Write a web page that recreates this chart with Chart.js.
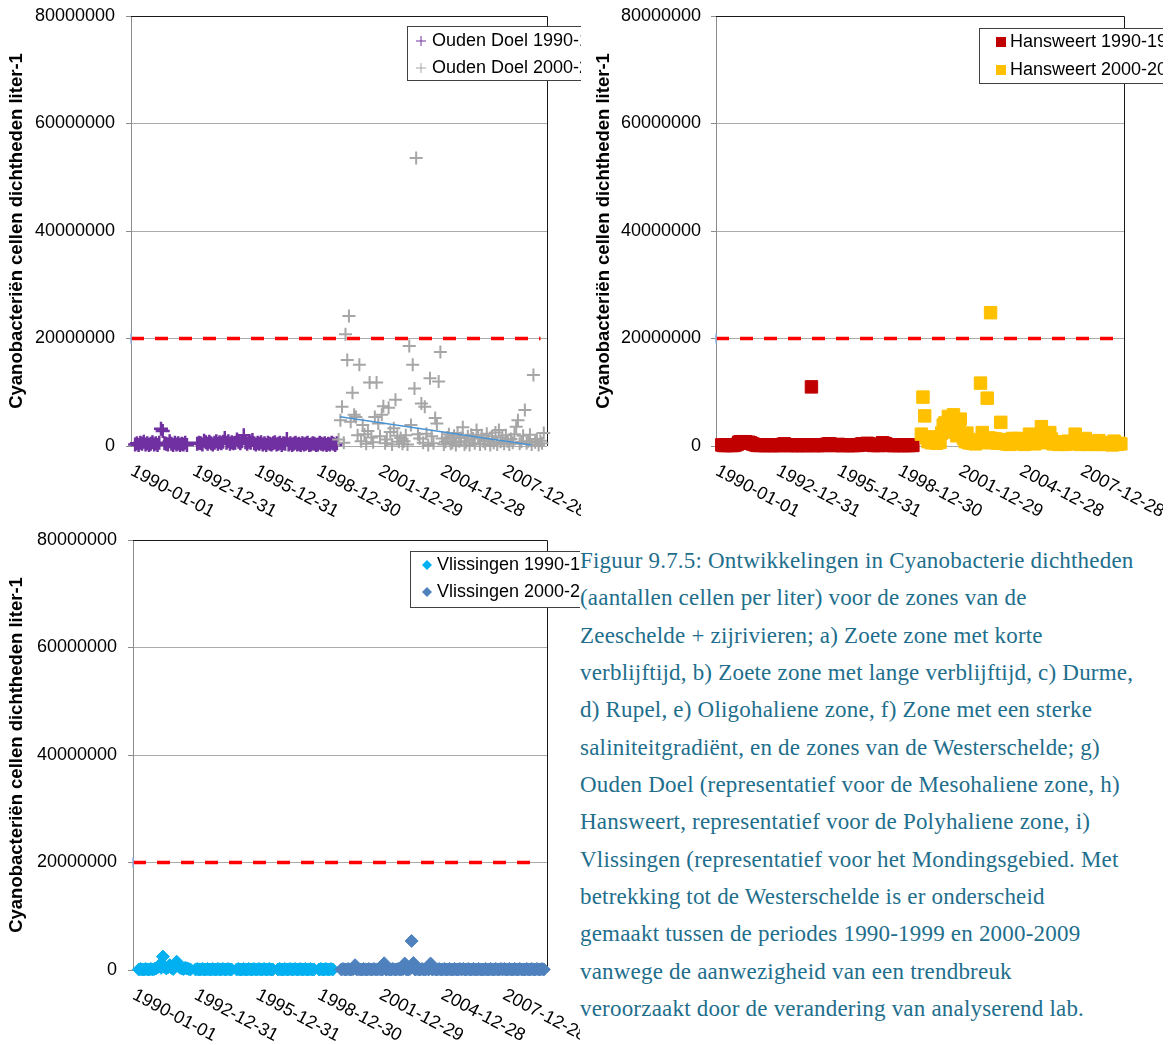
<!DOCTYPE html>
<html lang="nl">
<head>
<meta charset="utf-8" />
<title>Cyanobacteriën Westerschelde</title>
<style>
  * { margin: 0; padding: 0; }
  body { width: 1173px; height: 1045px; background: #fff; position: relative; overflow: hidden; }
  canvas { position: absolute; }
  #c1 { left: 0; top: 0; }
  #c2 { left: 590px; top: 0; }
  #c3 { left: 0; top: 524px; }
  .caption {
    position: absolute;
    left: 580px;
    top: 542px;
    font-family: 'Liberation Serif', 'Times New Roman', serif;
    font-size: 23px;
    letter-spacing: 0.2px;
    line-height: 37.33px;
    color: #1e6e8c;
    white-space: pre;
    background: #fff;
  }
</style>
</head>
<body>
<canvas id="c1" width="581" height="520"></canvas>
<canvas id="c2" width="573" height="520"></canvas>
<canvas id="c3" width="580" height="521"></canvas>
<div class="caption">Figuur 9.7.5: Ontwikkelingen in Cyanobacterie dichtheden
(aantallen cellen per liter) voor de zones van de
Zeeschelde + zijrivieren; a) Zoete zone met korte
verblijftijd, b) Zoete zone met lange verblijftijd, c) Durme,
d) Rupel, e) Oligohaliene zone, f) Zone met een sterke
saliniteitgradiënt, en de zones van de Westerschelde; g)
Ouden Doel (representatief voor de Mesohaliene zone, h)
Hansweert, representatief voor de Polyhaliene zone, i)
Vlissingen (representatief voor het Mondingsgebied. Met
betrekking tot de Westerschelde is er onderscheid
gemaakt tussen de periodes 1990-1999 en 2000-2009
vanwege de aanwezigheid van een trendbreuk
veroorzaakt door de verandering van analyserend lab.</div>

<script src="https://cdn.jsdelivr.net/npm/chart.js"></script>
<script>
  // date axis labels (Excel date axis, major unit 1095 days)
  const tickDates = ['1990-01-01', '1992-12-31', '1995-12-31', '1998-12-30', '2001-12-29', '2004-12-28', '2007-12-28'];
  const thresholdValue = 20000000;
  const yTitle = 'Cyanobacteriën cellen dichtheden liter-1';

  // monthly samples in millions of cells per liter, one row per year, null = no sample
  const oudenDoel1990 = [
    null, null, 0.3, 0.5, 0.2, 0.6, 0.4, 0.8, 0.3, 0.5, 0.2, 0.4,
    0.7, 0.3, 0.5, 0.2, 0.6, 3.2, 2.8, 0.5, 0.4, 0.3, 0.9, 0.4,
    0.2, 0.6, 0.3, 0.5, 0.2, 0.4, 0.3, 0.6, 0.2, null, null, null,
    null, null, 0.4, 0.6, 0.5, 0.3, 1.0, 0.7, 0.4, 0.8, 0.5, 0.3,
    0.6, 0.9, 0.4, 0.7, 0.5, 0.8, 1.5, 0.6, 0.9, 0.4, 0.7, 0.5,
    0.6, 1.2, 0.8, 0.5, 0.9, 2.0, 0.7, 0.4, 0.8, 0.6, 1.1, 0.5,
    0.3, 0.6, 0.4, 0.7, 0.3, 0.5, 0.2, 0.6, 0.4, 0.3, 0.5, 0.7,
    0.3, 0.4, 0.6, 0.2, 0.5, 0.4, 1.3, 0.3, 0.5, 0.2, 0.4, 0.6,
    0.3, 0.4, 0.2, 0.5, 0.3, 0.4, 0.6, 0.2, 0.3, 0.5, 0.4, 0.2,
    0.3, 0.6, 0.4, 0.3, 0.5, 0.2, 0.4, 0.3, 0.6, 0.4, 0.2, 0.5
  ];
  const oudenDoel2000 = [
    1.2, 4.8, 7.3, 0.6, 20.8, 16.0, 24.2, 4.5, 9.9, 5.8, 5.4, 2.0,
    15.1, 0.9, 3.9, 2.2, 0.4, 2.8, 11.8, 1.6, 0.7, 5.4, 11.8, 4.2,
    1.8, 5.8, 7.4, 0.5, 1.2, 7.1, 2.6, 0.3, 3.3, 8.6, 1.9, 0.8,
    1.5, 0.4, 0.9, 2.0, 0.3, 18.6, 3.9, 15.1, 10.7, 53.6, 2.2, 1.4,
    7.9, 0.6, 7.3, 2.3, 0.2, 12.6, 1.8, 0.5, 5.2, 4.2, 12.0, 17.5,
    1.4, 0.3, 0.8, 1.6, 2.2, 0.4, 0.6, 1.9, 0.2, 2.4, 0.9, 1.5,
    3.5, 0.3, 0.7, 1.8, 0.2, 2.1, 1.4, 0.5, 3.0, 1.6, 0.3, 2.0,
    0.9, 0.4, 2.3, 1.2, 0.2, 1.8, 0.6, 2.5, 0.3, 3.0, 0.8, 1.6,
    0.4, 2.0, 0.9, 0.3, 1.3, 0.6, 2.2, 3.6, 4.8, 0.4, 0.8, 1.9,
    6.7, 0.5, 0.9, 2.1, 0.3, 13.2, 0.7, 1.3, 0.2, 1.0, 0.5, 2.4
  ];
  const oudenDoelTrendDates = ['2000-02-06', '2009-05-10'];
  const oudenDoelTrend = [5.45, 0.2];

  const hansweert1990 = [
    null, null, null, 0.2, 0.1, 0.1, 0.2, 0.1, 0.2, 0.1, 0.1, 0.2,
    0.3, 0.7, 0.8, 0.6, 0.7, 0.8, 0.5, 0.7, 0.6, 0.4, 0.3, 0.2,
    0.1, 0.2, 0.1, 0.2, 0.1, 0.1, 0.2, 0.1, 0.1, 0.2, 0.1, 0.1,
    0.2, 0.1, 0.1, 0.3, 0.4, 0.2, 0.1, 0.1, 0.2, 0.1, 0.1, 0.2,
    0.1, 0.2, 0.1, 0.1, 0.2, 0.1, 0.1, 0.2, 11.0, 0.1, 0.1, 0.2,
    0.1, 0.2, 0.1, 0.1, 0.2, 0.3, 0.4, 0.4, 0.2, 0.1, 0.1, 0.2,
    0.3, 0.2, 0.1, 0.1, 0.2, 0.1, 0.1, 0.2, 0.1, 0.1, 0.2, 0.1,
    0.2, 0.3, 0.4, 0.2, 0.3, 0.5, 0.4, 0.3, 0.2, 0.1, 0.2, 0.1,
    0.1, 0.2, 0.6, 0.5, 0.4, 0.2, 0.1, 0.2, 0.1, 0.1, 0.2, 0.1,
    0.1, 0.2, 0.1, 0.1, 0.2, 0.1, 0.1, 0.2, 0.1, null, null, null
  ];
  const hansweert2000 = [
    null, 2.2, 9.1, 5.6, 1.5, 0.8, 1.2, 0.6, 1.7, 0.9, 0.5, 1.1,
    0.7, 2.4, 3.9, 4.3, 3.0, 5.5, 2.6, 3.4, 5.8, 2.8, 1.9, 3.2,
    5.0, 2.1, 1.4, 0.8, 2.4, 0.6, 1.0, 0.5, 0.9, 0.4, 0.7, 1.2,
    11.7, 2.5, 1.3, 0.6, 8.9, 1.5, 24.8, 1.4, 0.8, 1.3, 0.5, 0.9,
    4.4, 1.2, 0.6, 0.4, 1.0, 0.3, 0.7, 1.4, 0.5, 0.8, 1.4, 0.6,
    0.4, 0.9, 0.3, 0.6, 1.2, 2.2, 0.8, 0.5, 0.4, 1.6, 0.7, 1.5,
    3.6, 2.2, 1.0, 0.6, 1.1, 2.5, 1.3, 0.4, 0.8, 0.5, 0.3, 0.7,
    0.4, 0.6, 0.3, 0.5, 0.9, 0.4, 0.6, 0.8, 2.2, 1.0, 0.5, 0.3,
    0.6, 0.4, 1.4, 0.8, 0.3, 0.5, 0.7, 0.4, 0.3, 0.6, 1.0, 0.5,
    0.3, 0.4, 0.6, 0.3, 0.5, 0.4, 0.2, 0.9, 0.4, 0.3, 0.5, 0.4
  ];

  const vlissingen1990 = [
    null, null, null, 0.1, 0.2, 0.1, 0.1, 0.2, 0.1, 0.1, 0.2, 0.1,
    0.2, 0.3, 0.5, 0.9, 0.4, 2.5, 0.6, 0.3, 0.5, 0.9, 0.4, 0.2,
    0.6, 1.55, 0.8, 0.4, 0.3, 0.2, 0.4, 0.3, 0.2, 0.1, null, null,
    0.1, 0.2, 0.1, 0.1, 0.2, 0.1, 0.1, 0.2, 0.1, 0.1, 0.2, 0.1,
    0.1, 0.2, 0.1, 0.1, 0.2, 0.1, 0.1, 0.2, 0.1, 0.1, null, null,
    0.1, 0.2, 0.1, 0.1, 0.2, 0.1, 0.1, 0.2, 0.1, 0.1, 0.2, 0.1,
    0.1, 0.2, 0.1, 0.1, 0.2, 0.1, 0.1, 0.2, 0.1, 0.1, null, null,
    0.1, 0.2, 0.1, 0.1, 0.2, 0.1, 0.1, 0.2, 0.1, 0.1, 0.2, 0.1,
    0.1, 0.2, 0.1, 0.1, 0.2, 0.1, 0.1, 0.2, 0.1, 0.1, null, null,
    0.1, 0.2, 0.1, 0.1, 0.2, 0.1, 0.1, 0.2, 0.1, null, null, null
  ];
  const vlissingen2000 = [
    null, 0.1, 0.2, 0.1, 0.1, 0.2, 0.1, 0.1, 0.2, 0.9, 0.1, 0.2,
    0.1, 0.1, 0.2, 0.1, 0.1, 0.2, 0.1, 0.1, 0.2, 0.1, 0.1, 0.2,
    0.1, 0.1, 1.25, 0.1, 0.2, 0.1, 0.1, 0.2, 0.1, 0.1, 0.2, 0.1,
    0.1, 0.2, 1.2, 0.1, 0.1, 0.2, 5.4, 1.3, 0.1, 0.2, 0.1, 0.1,
    0.2, 0.1, 0.1, 0.2, 0.1, 1.2, 0.1, 0.2, 0.1, 0.1, 0.2, 0.1,
    0.1, 0.2, 0.1, 0.1, 0.2, 0.1, 0.1, 0.2, 0.1, 0.1, 0.2, 0.1,
    0.2, 0.1, 0.1, 0.2, 0.1, 0.1, 0.2, 0.1, 0.1, 0.2, 0.1, 0.1,
    0.1, 0.2, 0.1, 0.1, 0.2, 0.1, 0.1, 0.2, 0.1, 0.1, 0.2, 0.1,
    0.2, 0.1, 0.1, 0.2, 0.1, 0.1, 0.2, 0.1, 0.1, 0.2, 0.1, 0.1,
    0.1, 0.2, 0.1, 0.1, 0.2, 0.1, 0.1, 0.2, 0.1, 0.1, 0.2, 0.1
  ];

  const FONT = "'Liberation Sans', Arial, sans-serif";
  const DAY = 86400000;
  const T0 = Date.UTC(1990, 0, 1);
  const toDay = (iso) => (Date.parse(iso) - T0) / DAY;

  // one point per month, placed mid-month
  function monthly(startYear, values) {
    const pts = [];
    values.forEach((v, i) => {
      if (v === null) return;
      pts.push({ x: (Date.UTC(startYear, i, 15) - T0) / DAY, y: v * 1e6 });
    });
    return pts;
  }

  function series(label, values, startYear, color, style, radius, width) {
    return {
      label,
      data: monthly(startYear, values),
      showLine: false,
      pointStyle: style,
      pointRadius: radius,
      pointBorderWidth: width,
      pointBorderColor: color,
      pointBackgroundColor: color,
      borderColor: color,
      backgroundColor: color,
      clip: false,
    };
  }

  function thresholdLine(endDate) {
    return {
      label: 'norm',
      data: [
        { x: toDay('1990-01-01'), y: thresholdValue },
        { x: toDay(endDate), y: thresholdValue },
      ],
      showLine: true,
      borderColor: '#ff0000',
      borderWidth: 3.5,
      borderDash: [13, 11],
      pointStyle: 'line',
      pointRotation: 90,
      pointRadius: [5, 0],
      pointBorderColor: '#8db3e2',
      pointBorderWidth: 1.5,
      clip: false,
    };
  }

  // plot area border (top + right), under the markers
  const frame = {
    id: 'frame',
    beforeDatasetsDraw(chart) {
      const { ctx, chartArea: { left, top, right, bottom } } = chart;
      const r = Math.round(right) + 0.5;
      ctx.save();
      ctx.strokeStyle = '#1a1a1a';
      ctx.lineWidth = 1;
      ctx.beginPath();
      ctx.moveTo(left, top + 0.5);
      ctx.lineTo(r, top + 0.5);
      ctx.lineTo(r, bottom);
      ctx.stroke();
      ctx.restore();
    },
  };

  // slanted date labels running down to the right
  const dateLabels = {
    id: 'dateLabels',
    afterDraw(chart) {
      const { ctx, chartArea: { bottom }, scales: { x } } = chart;
      ctx.save();
      ctx.font = '18px ' + FONT;
      ctx.fillStyle = '#000';
      ctx.textAlign = 'left';
      ctx.textBaseline = 'top';
      x.ticks.forEach((t, i) => {
        ctx.save();
        ctx.translate(x.getPixelForValue(t.value) + 5, bottom + 16);
        ctx.rotate((28 * Math.PI) / 180);
        ctx.fillText(tickDates[i], 0, 0);
        ctx.restore();
      });
      ctx.restore();
    },
  };

  function drawMarker(ctx, style, x, y, r) {
    ctx.beginPath();
    if (style === 'cross') {
      ctx.moveTo(x - r, y);
      ctx.lineTo(x + r, y);
      ctx.moveTo(x, y - r);
      ctx.lineTo(x, y + r);
      ctx.stroke();
    } else if (style === 'rect') {
      ctx.fillRect(x - r, y - r, 2 * r, 2 * r);
    } else {
      ctx.moveTo(x - r, y);
      ctx.lineTo(x, y - r);
      ctx.lineTo(x + r, y);
      ctx.lineTo(x, y + r);
      ctx.closePath();
      ctx.fill();
    }
  }

  // boxed legend, runs off the canvas edge on the right
  const boxLegend = {
    id: 'boxLegend',
    afterDraw(chart, args, o) {
      const { ctx } = chart;
      ctx.save();
      ctx.fillStyle = '#fff';
      ctx.fillRect(o.x, o.y, 300, o.h);
      ctx.strokeStyle = '#404040';
      ctx.lineWidth = 1;
      ctx.strokeRect(o.x + 0.5, o.y + 0.5, 300, o.h);
      ctx.font = '18px ' + FONT;
      ctx.textBaseline = 'middle';
      ctx.textAlign = 'left';
      o.items.forEach((idx, i) => {
        const ds = chart.data.datasets[idx];
        const y = o.rows[i];
        ctx.fillStyle = ds.pointBackgroundColor;
        ctx.strokeStyle = ds.pointBorderColor;
        ctx.lineWidth = 1;
        drawMarker(ctx, ds.pointStyle, o.markerX, y, o.markerR);
        ctx.fillStyle = '#000';
        ctx.fillText(ds.label, o.textX, y);
      });
      ctx.restore();
    },
  };

  function makeChart(id, datasets, o) {
    return new Chart(document.getElementById(id), {
      type: 'scatter',
      data: { datasets },
      options: {
        responsive: false,
        animation: false,
        events: [],
        layout: { padding: { top: 16, right: o.padRight, bottom: o.padBottom, left: 0 } },
        plugins: {
          legend: { display: false },
          tooltip: { enabled: false },
          boxLegend: o.legend,
        },
        scales: {
          x: {
            type: 'linear',
            min: 0,
            max: 7345,
            afterBuildTicks: (s) => {
              s.ticks = tickDates.map((d) => ({ value: toDay(d) }));
            },
            afterFit: (s) => {
              s.height = 0;
            },
            ticks: { display: false },
            grid: { display: false, drawTicks: false },
            border: { display: false },
          },
          y: {
            min: 0,
            max: 80000000,
            afterFit: (s) => {
              // fixed axis width; the outer padding alone sets the plot top
              s.width = o.axisLeft;
              s.paddingTop = 0;
              s.paddingBottom = 0;
            },
            ticks: {
              stepSize: 20000000,
              padding: o.tickPad,
              color: '#000',
              font: { family: FONT, size: 18 },
              callback: (v) => String(v),
            },
            grid: { color: '#ababab', tickColor: '#8c8c8c', tickLength: 5, lineWidth: 1 },
            border: { color: '#8c8c8c' },
            title: {
              display: true,
              text: yTitle,
              color: '#000',
              font: { family: FONT, size: 18.5, weight: 'bold' },
              padding: { top: o.titlePad, bottom: 0 },
            },
          },
        },
      },
      plugins: [frame, dateLabels, boxLegend],
    });
  }

  // g) Ouden Doel
  const trend = {
    label: 'trend',
    data: oudenDoelTrendDates.map((d, i) => ({ x: toDay(d), y: oudenDoelTrend[i] * 1e6 })),
    showLine: true,
    borderColor: '#4a94d4',
    borderWidth: 1.5,
    pointRadius: 0,
  };
  makeChart('c1', [
    thresholdLine('2009-10-18'),
    trend,
    series('Ouden Doel 2000-2009', oudenDoel2000, 2000, '#a6a6a6', 'cross', 6.5, 2),
    series('Ouden Doel 1990-1999', oudenDoel1990, 1990, '#7030a0', 'cross', 7, 2.5),
  ], {
    axisLeft: 131, padRight: 34, padBottom: 74, tickPad: 11, titlePad: 6,
    legend: { x: 407, y: 26, h: 54, rows: [41, 68], items: [3, 2], markerX: 421, markerR: 5, textX: 432 },
  });

  // h) Hansweert
  makeChart('c2', [
    thresholdLine('2010-01-10'),
    series('Hansweert 2000-2009', hansweert2000, 2000, '#ffc000', 'rect', 8.8, 1),
    series('Hansweert 1990-1999', hansweert1990, 1990, '#c00000', 'rect', 8.8, 1),
  ], {
    axisLeft: 126, padRight: 39, padBottom: 74, tickPad: 10, titlePad: 3,
    legend: { x: 389, y: 28, h: 55, rows: [42, 70], items: [2, 1], markerX: 411, markerR: 5, textX: 420 },
  });

  // i) Vlissingen
  makeChart('c3', [
    thresholdLine('2009-10-18'),
    series('Vlissingen 2000-2009', vlissingen2000, 2000, '#4f81bd', 'rectRot', 6.5, 1),
    series('Vlissingen 1990-1999', vlissingen1990, 1990, '#00b0f0', 'rectRot', 6.5, 1),
  ], {
    axisLeft: 133, padRight: 33, padBottom: 75, tickPad: 11, titlePad: 6,
    legend: { x: 410, y: 27, h: 56, rows: [41, 68], items: [2, 1], markerX: 427, markerR: 5, textX: 437 },
  });
</script>
</body>
</html>
